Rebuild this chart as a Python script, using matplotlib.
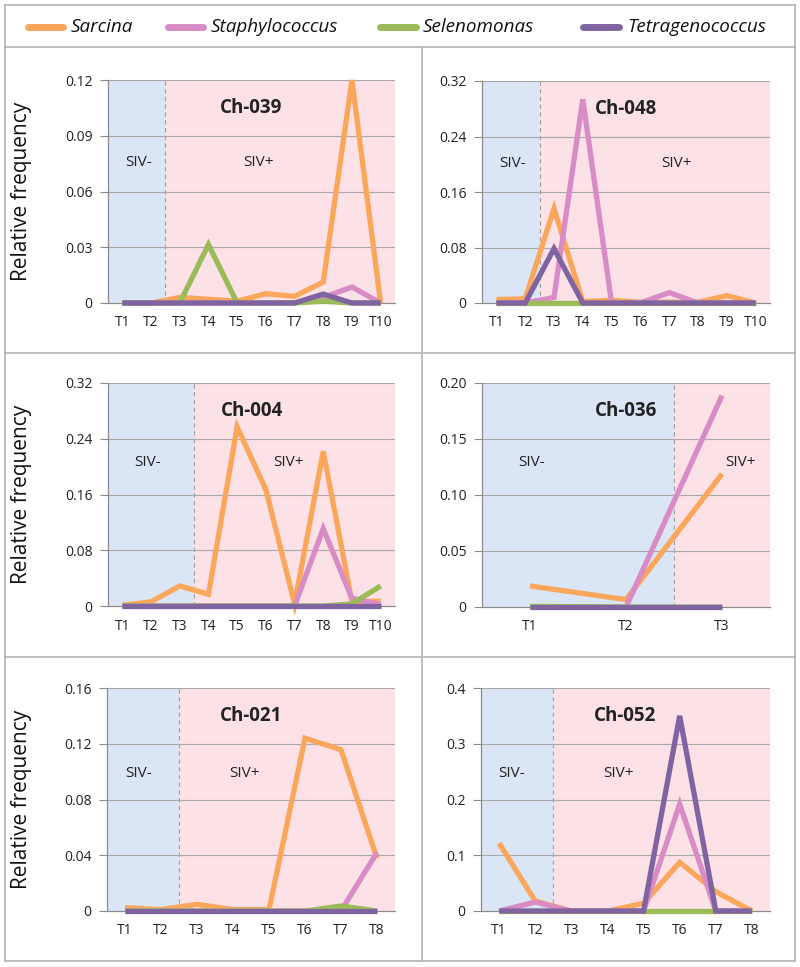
import matplotlib
matplotlib.use("Agg")
import matplotlib.pyplot as plt
from matplotlib.lines import Line2D
import matplotlib.transforms as mtransforms

plt.rcParams['font.family'] = ['Open Sans', 'DejaVu Sans']

species = ["Sarcina", "Staphylococcus", "Selenomonas", "Tetragenococcus"]
colors = ["#FAA75B", "#D98BC5", "#9BBB59", "#8064A2"]

# Ch-039
ch039_labels = ["T1", "T2", "T3", "T4", "T5", "T6", "T7", "T8", "T9", "T10"]
ch039_sarcina = [0, 0, 0.003, 0.002, 0.001, 0.005, 0.0036, 0.0113, 0.12, 0]
ch039_staph = [0, 0, 0, 0, 0, 0, 0, 0.003, 0.0086, 0]
ch039_selen = [0, 0, 0, 0.0315, 0, 0, 0, 0.001, 0, 0]
ch039_tetra = [0, 0, 0, 0, 0, 0, 0, 0.0048, 0, 0]

# Ch-048
ch048_labels = ["T1", "T2", "T3", "T4", "T5", "T6", "T7", "T8", "T9", "T10"]
ch048_sarcina = [0.005, 0.006, 0.136, 0.002, 0.004, 0.001, 0.001, 0.001, 0.0106, 0]
ch048_staph = [0, 0, 0.008, 0.2935, 0, 0, 0.015, 0, 0, 0]
ch048_selen = [0, 0, 0, 0, 0, 0, 0, 0, 0, 0]
ch048_tetra = [0, 0, 0.0784, 0, 0, 0, 0, 0, 0, 0]

# Ch-004
ch004_labels = ["T1", "T2", "T3", "T4", "T5", "T6", "T7", "T8", "T9", "T10"]
ch004_sarcina = [0.001, 0.006, 0.0288, 0.0168, 0.257, 0.167, 0.003, 0.222, 0.006, 0.007]
ch004_staph = [0, 0, 0, 0, 0, 0, 0, 0.111, 0.011, 0.002]
ch004_selen = [0, 0, 0, 0, 0, 0, 0, 0, 0.003, 0.0288]
ch004_tetra = [0, 0, 0, 0, 0, 0, 0, 0, 0, 0]

# Ch-036
ch036_labels = ["T1", "T2", "T3"]
ch036_sarcina = [0.0188, 0.0066, 0.1188]
ch036_staph = [0, 0, 0.1887]
ch036_selen = [0.0005, 0, 0]
ch036_tetra = [0, 0, 0]

# Ch-021
ch021_labels = ["T1", "T2", "T3", "T4", "T5", "T6", "T7", "T8"]
ch021_sarcina = [0.0024, 0.001, 0.0048, 0.001, 0.001, 0.124, 0.1157, 0.0378]
ch021_staph = [0, 0, 0, 0, 0, 0, 0, 0.042]
ch021_selen = [0, 0, 0, 0, 0, 0, 0.0036, 0]
ch021_tetra = [0, 0, 0, 0, 0, 0, 0, 0]

# Ch-052
ch052_labels = ["T1", "T2", "T3", "T4", "T5", "T6", "T7", "T8"]
ch052_sarcina = [0.1216, 0.018, 0, 0, 0.0138, 0.0874, 0.0347, 0]
ch052_staph = [0, 0.016, 0, 0, 0, 0.1916, 0, 0]
ch052_selen = [0, 0, 0, 0, 0, 0, 0, 0]
ch052_tetra = [0, 0, 0, 0, 0, 0.35, 0, 0]

W, H = 800, 967
fig = plt.figure(figsize=(W / 100, H / 100), dpi=100)

def px_axes(left, right, top, bottom):
    return fig.add_axes([left / W, 1 - bottom / H, (right - left) / W, (bottom - top) / H])

panels = [
    dict(name="Ch-039", labels=ch039_labels, series=[ch039_sarcina, ch039_staph, ch039_selen, ch039_tetra],
         ymax=0.12, yticks=[0, 0.03, 0.06, 0.09, 0.12], yfmt=["0", "0.03", "0.06", "0.09", "0.12"],
         split=1.5, sivm=0.55, sivp=4.76, sivy=0.63, box=(108, 395, 80, 303), ylabel=True),
    dict(name="Ch-048", labels=ch048_labels, series=[ch048_sarcina, ch048_staph, ch048_selen, ch048_tetra],
         ymax=0.32, yticks=[0, 0.08, 0.16, 0.24, 0.32], yfmt=["0", "0.08", "0.16", "0.24", "0.32"],
         split=1.5, sivm=0.58, sivp=6.24, sivy=0.63, box=(482, 770, 81, 303), ylabel=False),
    dict(name="Ch-004", labels=ch004_labels, series=[ch004_sarcina, ch004_staph, ch004_selen, ch004_tetra],
         ymax=0.32, yticks=[0, 0.08, 0.16, 0.24, 0.32], yfmt=["0", "0.08", "0.16", "0.24", "0.32"],
         split=2.5, sivm=0.89, sivp=5.8, sivy=0.645, box=(108, 395, 383, 606), ylabel=True),
    dict(name="Ch-036", labels=ch036_labels, series=[ch036_sarcina, ch036_staph, ch036_selen, ch036_tetra],
         ymax=0.20, yticks=[0, 0.05, 0.10, 0.15, 0.20], yfmt=["0", "0.05", "0.10", "0.15", "0.20"],
         split=1.5, sivm=0.02, sivp=2.19, sivy=0.645, box=(482, 770, 383, 607), ylabel=False),
    dict(name="Ch-021", labels=ch021_labels, series=[ch021_sarcina, ch021_staph, ch021_selen, ch021_tetra],
         ymax=0.16, yticks=[0, 0.04, 0.08, 0.12, 0.16], yfmt=["0", "0.04", "0.08", "0.12", "0.16"],
         split=1.5, sivm=0.39, sivp=3.32, sivy=0.615, box=(107, 395, 688, 911), ylabel=True),
    dict(name="Ch-052", labels=ch052_labels, series=[ch052_sarcina, ch052_staph, ch052_selen, ch052_tetra],
         ymax=0.4, yticks=[0, 0.1, 0.2, 0.3, 0.4], yfmt=["0", "0.1", "0.2", "0.3", "0.4"],
         split=1.5, sivm=0.36, sivp=3.31, sivy=0.615, box=(481, 770, 688, 911), ylabel=False),
]

grid_c = "#A9A9A9"
for p in panels:
    ax = px_axes(*p["box"])
    n = len(p["labels"])
    x = list(range(n))
    ax.set_xlim(-0.5, n - 0.5)
    ax.set_ylim(0, p["ymax"])
    ax.axvspan(-0.5, p["split"], color="#DAE5F5", zorder=0, lw=0)
    ax.axvspan(p["split"], n - 0.5, color="#FCE1E7", zorder=0, lw=0)
    ax.axvline(p["split"], color="#A0A0A0", lw=0.8, ls=(0, (4, 3)), zorder=1)
    for t in p["yticks"][1:]:
        ax.axhline(t, color=grid_c, lw=0.8, zorder=1)
    for vals, c in zip(p["series"], colors):
        ax.plot(x, vals, color=c, lw=3.8, solid_joinstyle="miter", solid_capstyle="butt",
                zorder=3, clip_on=False)
    ax.set_xticks(x)
    ax.set_xticklabels(p["labels"], fontsize=10, color="#222222")
    ax.tick_params(axis="x", length=0, pad=9)
    ax.set_yticks(p["yticks"])
    ax.set_yticklabels(p["yfmt"], fontsize=10, color="#222222")
    ax.tick_params(axis="y", length=6, width=0.8, color="#8C8C8C", pad=5)
    for s in ["top", "right"]:
        ax.spines[s].set_visible(False)
    for s in ["left", "bottom"]:
        ax.spines[s].set_color("#8C8C8C")
        ax.spines[s].set_linewidth(0.9)
    ax.spines["bottom"].set_zorder(2)
    ax.text(0.5, 0.875, p["name"], transform=ax.transAxes, ha="center", va="center",
            fontsize=13.5, fontweight="bold", color="#222222", zorder=4)
    trans = mtransforms.blended_transform_factory(ax.transData, ax.transAxes)
    ax.text(p["sivm"], p["sivy"], "SIV-", transform=trans, ha="center", va="center",
            fontsize=11, color="#222222", zorder=4)
    ax.text(p["sivp"], p["sivy"], "SIV+", transform=trans, ha="center", va="center",
            fontsize=11, color="#222222", zorder=4)
    if p["ylabel"]:
        ax.set_ylabel("Relative frequency", fontsize=15, color="#111111")
        ax.yaxis.set_label_coords((32 - p["box"][0]) / (p["box"][1] - p["box"][0]), 0.5)

# borders
bc = "#B4B4B4"
def hline(y, x0, x1):
    fig.add_artist(Line2D([x0 / W, x1 / W], [1 - y / H, 1 - y / H], color=bc, lw=1.2))
def vline(x, y0, y1):
    fig.add_artist(Line2D([x / W, x / W], [1 - y0 / H, 1 - y1 / H], color=bc, lw=1.2))

hline(5, 5, 795)
hline(47, 5, 795)
hline(353, 5, 795)
hline(657, 5, 795)
hline(961, 5, 795)
vline(5, 5, 961)
vline(795, 5, 961)
vline(422, 47, 961)

# legend
leg_items = [(28, 63, 71), (168, 203, 211), (380, 416, 423), (583, 619, 627)]
ly = 27
for (a, b, t), name, c in zip(leg_items, species, colors):
    fig.add_artist(Line2D([a / W, b / W], [1 - ly / H, 1 - ly / H], color=c, lw=5, solid_capstyle="round"))
    fig.text(t / W, 1 - ly / H, name, fontsize=13.6, style="italic", va="center", ha="left", color="#111111")

fig.savefig("out.png", dpi=100, facecolor="white")
